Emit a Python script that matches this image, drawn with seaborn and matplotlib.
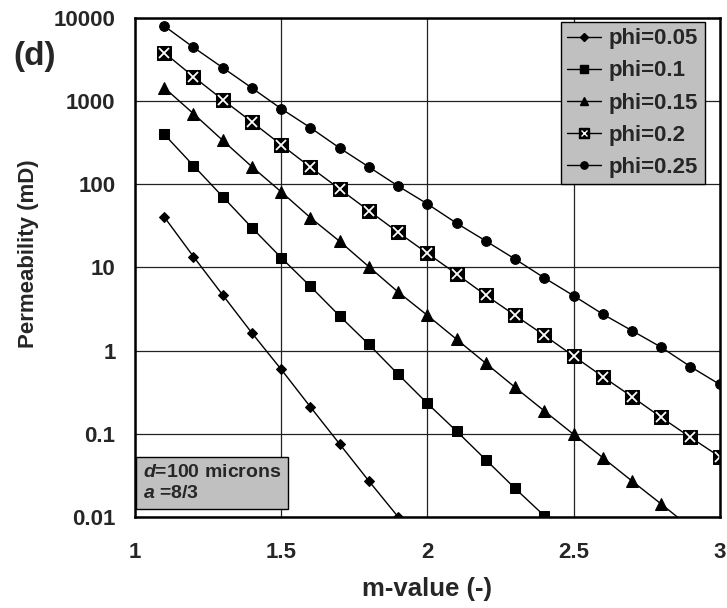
import pandas as pd
import matplotlib.pyplot as plt
import seaborn as sns
from matplotlib.legend_handler import HandlerTuple
from matplotlib.lines import Line2D

# m values (x axis)
m_values = [1.1, 1.2, 1.3, 1.4, 1.5, 1.6, 1.7, 1.8, 1.9, 2.0,
            2.1, 2.2, 2.3, 2.4, 2.5, 2.6, 2.7, 2.8, 2.9, 3.0]

# permeability (mD), one list per porosity
k_phi005 = [40.4, 13.5, 4.67, 1.63, 0.597, 0.211, 0.0757, 0.0272, 0.0101]
k_phi010 = [397, 167, 70.8, 30.0, 13.1, 5.93, 2.61, 1.19, 0.521, 0.233,
            0.108, 0.049, 0.0222, 0.0104, 0.0047]
k_phi015 = [1443, 703, 336, 162, 81, 39.6, 20.6, 10.2, 5.07, 2.66,
            1.37, 0.706, 0.363, 0.189, 0.099, 0.0519, 0.0272, 0.0144, 0.0075]
k_phi020 = [3800, 1955, 1035, 558, 298, 160, 87.5, 48, 26.4, 14.8,
            8.34, 4.63, 2.66, 1.53, 0.863, 0.488, 0.280, 0.158, 0.091, 0.0533]
k_phi025 = [7943, 4400, 2510, 1430, 807, 477, 272, 161, 95, 58,
            34, 20.8, 12.6, 7.5, 4.58, 2.75, 1.74, 1.10, 0.643, 0.394]

labels = ['phi=0.05', 'phi=0.1', 'phi=0.15', 'phi=0.2', 'phi=0.25']
series = [k_phi005, k_phi010, k_phi015, k_phi020, k_phi025]

rows = []
for lab, ks in zip(labels, series):
    for m, k in zip(m_values, ks):
        rows.append({'m': m, 'k': k, 'series': lab})
df = pd.DataFrame(rows)

sns.set_style('white')
plt.rcParams['font.family'] = ['Liberation Sans', 'DejaVu Sans']
plt.rcParams['font.weight'] = 'bold'
plt.rcParams['mathtext.fontset'] = 'custom'
plt.rcParams['mathtext.it'] = 'Liberation Sans:italic:bold'
plt.rcParams['mathtext.rm'] = 'Liberation Sans:bold'

markers = {'phi=0.05': 'D', 'phi=0.1': 's', 'phi=0.15': '^',
           'phi=0.2': 's', 'phi=0.25': 'o'}
msizes = {'phi=0.05': 5, 'phi=0.1': 7, 'phi=0.15': 8,
          'phi=0.2': 10, 'phi=0.25': 7}

fig = plt.figure(figsize=(7.27, 6.08), dpi=100)
ax = fig.add_axes([0.1857, 0.1493, 0.8043, 0.8216])

for lab in labels:
    sub = df[df['series'] == lab]
    sns.lineplot(data=sub, x='m', y='k', ax=ax, color='black', linewidth=1,
                 marker=markers[lab], markersize=msizes[lab],
                 markeredgecolor='black', markerfacecolor='black',
                 legend=False, zorder=3)
    if lab == 'phi=0.2':
        ax.plot(sub['m'], sub['k'], linestyle='none', marker='x',
                markersize=7, markeredgecolor='white', markeredgewidth=1.3,
                zorder=4)

ax.set_yscale('log')
ax.set_xlim(1, 3)
ax.set_ylim(0.01, 10000)

yt = [0.01, 0.1, 1, 10, 100, 1000, 10000]
ax.set_yticks(yt)
ax.set_yticklabels(['0.01', '0.1', '1', '10', '100', '1000', '10000'])
ax.yaxis.set_minor_locator(plt.NullLocator())
ax.set_xticks([1, 1.5, 2, 2.5, 3])
ax.set_xticklabels(['1', '1.5', '2', '2.5', '3'])

ax.grid(True, which='major', color='#222222', linewidth=0.9)
ax.tick_params(axis='both', which='major', direction='out', length=5,
               width=1.2, color='black', labelsize=16)
ax.tick_params(axis='y', pad=9)
ax.tick_params(axis='x', pad=13)
ax.tick_params(axis='both', which='minor', length=0)
for sp in ax.spines.values():
    sp.set_color('black')
    sp.set_linewidth(1.8)
    sp.set_zorder(5)

ax.set_xlabel('')
ax.set_ylabel('')
fig.text(427 / 727, 1 - 589 / 608, 'm-value (-)', fontsize=18.5,
         fontweight='bold', ha='center', va='center')
fig.text(29 / 727, 1 - 254 / 608, 'Permeability (mD)', fontsize=16,
         fontweight='bold', ha='center', va='center', rotation=90)

# legend with custom handles (crossed square for phi=0.2)
handles = []
for lab in labels:
    base = Line2D([], [], color='black', linewidth=1, marker=markers[lab],
                  markersize=msizes[lab] * 0.75, markerfacecolor='black',
                  markeredgecolor='black')
    if lab == 'phi=0.2':
        cross = Line2D([], [], linestyle='none', marker='x', markersize=5,
                       markeredgecolor='white', markeredgewidth=1.0)
        handles.append((base, cross))
    else:
        handles.append(base)

leg = ax.legend(handles, labels, loc='upper right',
                bbox_to_anchor=(0.974, 0.992), borderaxespad=0,
                fontsize=16, handlelength=1.5, handletextpad=0.35,
                labelspacing=0.5, borderpad=0.3, fancybox=False,
                framealpha=1, facecolor='#c0c0c0', edgecolor='black',
                handler_map={tuple: HandlerTuple(ndivide=1, pad=0)})
leg.get_frame().set_linewidth(1)
for t in leg.get_texts():
    t.set_fontweight('bold')

ax.text(0.014, 0.03, '$d$=100 microns\n$a$ =8/3', transform=ax.transAxes,
        fontsize=14, fontweight='bold', va='bottom', ha='left',
        linespacing=1.35, zorder=6,
        bbox=dict(boxstyle='square,pad=0.35', facecolor='#c0c0c0',
                  edgecolor='black', linewidth=1))

fig.text(13 / 727, 1 - 57 / 608, '(d)', fontsize=24, fontweight='bold',
         ha='left', va='center')

plt.savefig('out.png', dpi=100)
